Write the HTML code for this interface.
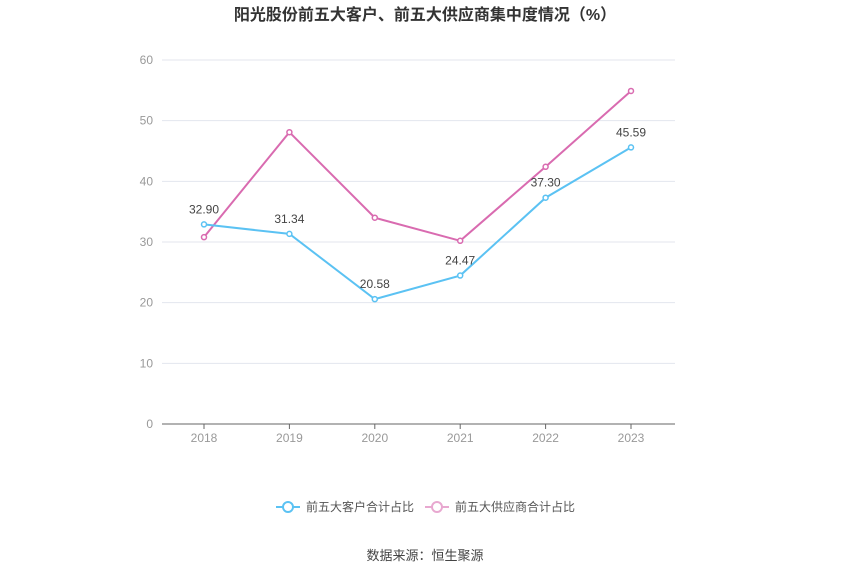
<!DOCTYPE html>
<html><head><meta charset="utf-8"><style>
body{margin:0;background:#fff;width:850px;height:574px;overflow:hidden;font-family:"Liberation Sans","Noto Sans CJK SC",sans-serif}
</style></head><body>
<svg width="850" height="574" xmlns="http://www.w3.org/2000/svg">
<text x="425" y="20" text-anchor="middle" font-size="16" font-weight="bold" fill="#333" font-family="Liberation Sans, Noto Sans CJK SC, sans-serif">阳光股份前五大客户、前五大供应商集中度情况（%）</text>
<g id="grid"></g>
<g id="series"></g>
<g font-size="12" fill="#555" font-family="Liberation Sans, Noto Sans CJK SC, sans-serif">
<g><line x1="276" y1="507" x2="300" y2="507" stroke="#5bc2f3" stroke-width="2"/><circle cx="288" cy="507" r="5" fill="#fff" stroke="#5bc2f3" stroke-width="2"/><text x="306" y="511" fill="#555">前五大客户合计占比</text></g>
<g><line x1="425" y1="507" x2="449" y2="507" stroke="#e8a8d0" stroke-width="2"/><circle cx="437" cy="507" r="5" fill="#fff" stroke="#e8a8d0" stroke-width="2"/><text x="455" y="511" fill="#555">前五大供应商合计占比</text></g>
</g>
<text x="425" y="560" text-anchor="middle" font-size="13" fill="#444" font-family="Liberation Sans, Noto Sans CJK SC, sans-serif">数据来源：恒生聚源</text>
</svg>
<script>
const categories=["2018","2019","2020","2021","2022","2023"];
const customers=[32.90,31.34,20.58,24.47,37.30,45.59];
const suppliers=[30.8,48.1,34.0,30.2,42.4,54.9];
const yTicks=[0,10,20,30,40,50,60];
const NS="http://www.w3.org/2000/svg";
const x=i=>204+i*85.4;
const y=v=>424-v*(364/60);
function mk(tag,attrs,parent){const e=document.createElementNS(NS,tag);for(const k in attrs)e.setAttribute(k,attrs[k]);parent.appendChild(e);return e;}
const g=document.getElementById('grid');
yTicks.forEach(t=>{
 const l=mk('line',{x1:162,x2:675,y1:y(t),y2:y(t),stroke:t===0?'#666':'#e3e6ee','stroke-width':1},g);
 
 
 const tx=mk('text',{x:153,y:y(t)+4,'text-anchor':'end','font-size':12,fill:'#999'},g);tx.textContent=t;
 
 
});
categories.forEach((c,i)=>{
 const tk=mk('line',{x1:x(i),x2:x(i),y1:424,y2:429,stroke:'#666'},g);
 
 
 const tx=mk('text',{x:x(i),y:442,'text-anchor':'middle','font-size':12,fill:'#999'},g);tx.textContent=c;
 
 
});
const s=document.getElementById('series');
function draw(vals,color,name,labels){
 const p=mk('polyline',{points:vals.map((v,i)=>x(i)+','+y(v)).join(' '),fill:'none',stroke:color,'stroke-width':2},s);
 
 
 vals.forEach((v,i)=>{
  const c=mk('circle',{cx:x(i),cy:y(v),r:2.5,fill:'#fff',stroke:color,'stroke-width':1.5},s);
  
  
  if(labels){const t=mk('text',{x:x(i),y:y(v)-11,'text-anchor':'middle','font-size':12,fill:'#444'},s);t.textContent=v.toFixed(2);
  
  }
 });
}
draw(suppliers,'#d96bb0','suppliers',false);
draw(customers,'#5bc2f3','customers',true);
</script>
</body></html>
